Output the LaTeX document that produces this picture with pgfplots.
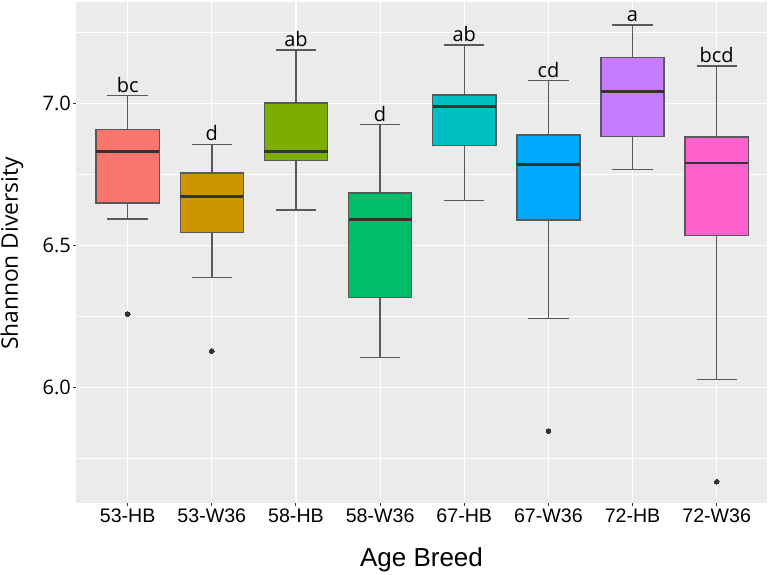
\documentclass[border=0pt]{standalone}
\usepackage{pgfplots}
\pgfplotsset{compat=1.18}
\usepgfplotslibrary{statistics}
\usepackage{fontspec}
\setmainfont{Liberation Sans}
\newfontfamily\osans{Open Sans}

\definecolor{panel}{HTML}{EBEBEB}
\definecolor{boxline}{HTML}{595959}
\definecolor{dark}{HTML}{333333}
\definecolor{c1}{HTML}{F8766D}
\definecolor{c2}{HTML}{CD9600}
\definecolor{c3}{HTML}{7CAE00}
\definecolor{c4}{HTML}{00BE67}
\definecolor{c5}{HTML}{00BFC4}
\definecolor{c6}{HTML}{00A9FF}
\definecolor{c7}{HTML}{C77CFF}
\definecolor{c8}{HTML}{FF61CC}

\pgfplotsset{
  gbox/.style={draw=boxline, line width=0.7pt, mark=*, mark size=1.2pt,
    mark options={draw=dark, fill=dark, line width=0pt, solid},
    boxplot/draw direction=y,
    boxplot/box extend=0.75, boxplot/whisker extend=0.48,
    boxplot/every whisker/.style={draw=boxline, line width=0.7pt},
    boxplot/every median/.style={draw=dark, line width=1.4pt}},
}
\tikzset{lett/.style={font=\osans\fontsize{10}{12}\selectfont, anchor=base, inner sep=0pt}}

\begin{document}
\begin{tikzpicture}
\path[use as bounding box] (0,0) rectangle (385pt,287pt);
\begin{axis}[
    at={(38pt,35.5pt)}, anchor=south west,
    scale only axis, width=345.5pt, height=250.5pt,
    xmin=0.386, xmax=8.598,
    ymin=5.593, ymax=7.357,
    axis background/.style={fill=panel},
    axis line style={draw=none},
    xtick={1,2,3,4,5,6,7,8},
    xticklabels={53-HB,53-W36,58-HB,58-W36,67-HB,67-W36,72-HB,72-W36},
    ytick={6.0,6.5,7.0},
    yticklabels={6.0,6.5,7.0},
    minor ytick={5.75,6.25,6.75,7.25},
    xtick pos=left, ytick pos=left,
    tick align=outside,
    major tick length=1.4pt, minor tick length=0pt,
    tick style={draw=dark, line width=0.5pt},
    xmajorgrids, ymajorgrids, yminorgrids,
    major grid style={draw=white, line width=0.6pt},
    minor grid style={draw=white, line width=0.3pt},
    xticklabel style={font=\fontsize{9.8}{11}\selectfont, anchor=base, inner sep=0pt, yshift=-8.5pt},
    yticklabel style={font=\osans\fontsize{10}{12}\selectfont, anchor=east, inner sep=0pt, xshift=-1pt},
    xlabel={Age Breed},
    xlabel style={font=\fontsize{13}{15}\selectfont, at={(axis description cs:0.5,-0.1273)}, anchor=base, inner sep=0pt},
    ylabel={Shannon Diversity},
    ylabel style={font=\osans\fontsize{11.4}{13}\selectfont, at={(axis description cs:-0.0926,0.498)}, anchor=center, inner sep=0pt},
]

\addplot[gbox, fill=c1, boxplot prepared={draw position=1,
    lower whisker=6.593, lower quartile=6.650, median=6.830,
    upper quartile=6.908, upper whisker=7.027}]
    coordinates {(0,6.258)};
\addplot[gbox, fill=c2, boxplot prepared={draw position=2,
    lower whisker=6.388, lower quartile=6.546, median=6.673,
    upper quartile=6.755, upper whisker=6.856}]
    coordinates {(0,6.128)};
\addplot[gbox, fill=c3, boxplot prepared={draw position=3,
    lower whisker=6.625, lower quartile=6.799, median=6.830,
    upper quartile=7.001, upper whisker=7.188}]
    coordinates {};
\addplot[gbox, fill=c4, boxplot prepared={draw position=4,
    lower whisker=6.106, lower quartile=6.317, median=6.592,
    upper quartile=6.684, upper whisker=6.926}]
    coordinates {};
\addplot[gbox, fill=c5, boxplot prepared={draw position=5,
    lower whisker=6.658, lower quartile=6.852, median=6.989,
    upper quartile=7.029, upper whisker=7.205}]
    coordinates {};
\addplot[gbox, fill=c6, boxplot prepared={draw position=6,
    lower whisker=6.242, lower quartile=6.589, median=6.784,
    upper quartile=6.889, upper whisker=7.080}]
    coordinates {(0,5.846)};
\addplot[gbox, fill=c7, boxplot prepared={draw position=7,
    lower whisker=6.768, lower quartile=6.884, median=7.043,
    upper quartile=7.162, upper whisker=7.276}]
    coordinates {};
\addplot[gbox, fill=c8, boxplot prepared={draw position=8,
    lower whisker=6.028, lower quartile=6.535, median=6.790,
    upper quartile=6.882, upper whisker=7.131}]
    coordinates {(0,5.668)};

% significance letters
\node[lett] at (axis cs:1,7.039) {bc};
\node[lett] at (axis cs:2,6.868) {d};
\node[lett] at (axis cs:3,7.200) {ab};
\node[lett] at (axis cs:4,6.938) {d};
\node[lett] at (axis cs:5,7.217) {ab};
\node[lett] at (axis cs:6,7.092) {cd};
\node[lett] at (axis cs:7,7.288) {a};
\node[lett] at (axis cs:8,7.143) {bcd};
\end{axis}
\end{tikzpicture}
\end{document}
